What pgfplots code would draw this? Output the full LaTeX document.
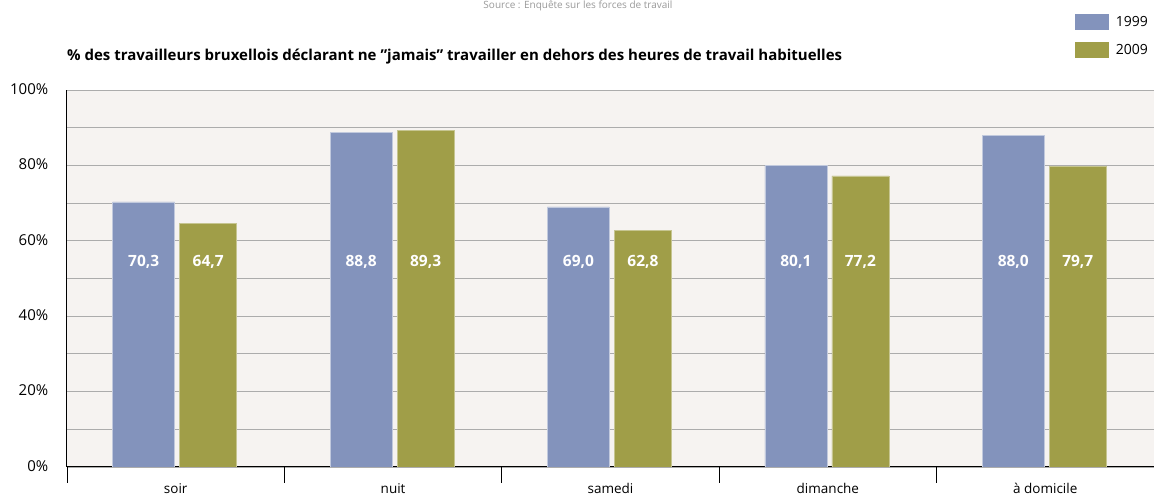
\documentclass[border=0pt]{standalone}
\usepackage{fontspec}
\setmainfont{Open Sans}
\usepackage{pgfplots}
\pgfplotsset{compat=1.18}
\definecolor{cblue}{RGB}{131,147,188}
\definecolor{cgreen}{RGB}{160,158,72}
\definecolor{cbg}{RGB}{246,243,241}
\definecolor{cgrid}{RGB}{172,172,172}
\begin{document}
\begin{tikzpicture}[x=1pt,y=1pt]
\path[use as bounding box] (0,0) rectangle (1154,497);
\node[anchor=north, inner sep=0pt, font=\fontsize{10}{11}\selectfont, text=gray!80] at (578,496) {Source : Enquête sur les forces de travail};
\node[anchor=west, inner sep=0pt, font=\bfseries\fontsize{15}{17}\selectfont] at (67,440) {\% des travailleurs bruxellois déclarant ne {\char34}jamais{\char34} travailler en dehors des heures de travail habituelles};
\begin{axis}[
  at={(67pt,30pt)}, anchor=south west,
  scale only axis, width=1087pt, height=377pt,
  xmin=-0.5, xmax=4.5, ymin=0, ymax=100,
  axis background/.style={fill=cbg},
  axis x line=bottom, axis y line=left,
  axis line style={-, black, line width=1pt},
  /pgf/number format/assume math mode=true,
  ytick={0,20,...,100},
  minor ytick={10,30,...,90},
  ymajorgrids, yminorgrids,
  major grid style={cgrid, line width=0.8pt},
  minor grid style={cgrid, line width=0.8pt},
  yticklabel={\pgfmathprintnumber{\tick}\%},
  major y tick style={draw=none},
  minor y tick style={draw=none},
  yticklabel style={font=\fontsize{15}{15}\selectfont, xshift=-11pt, yshift=1pt},
  xtick={0,...,4},
  xticklabels={soir, nuit, samedi, dimanche, à domicile},
  major x tick style={draw=none},
  minor xtick={-0.5,0.5,...,4.5},
  minor x tick style={black, line width=0.8pt},
  minor tick length=16pt,
  tick align=outside,
  xticklabel style={font=\fontsize{13.5}{13.5}\selectfont, anchor=base, yshift=-22.5pt},
  legend style={at={(1.0037,1.208)}, anchor=north east, draw=none, fill=none,
     font=\fontsize{14}{14}\selectfont, row sep=12pt, nodes={inner xsep=7pt}},
  legend cell align=left,
  legend image code/.code={\path[#1,draw=none] (0pt,-8pt) rectangle (34pt,8pt);},
]
\addplot[ybar, bar width=62pt, bar shift=-32pt, fill=cblue, draw=cblue!50!white, line width=0.6pt]
  coordinates {(0,70.3) (1,88.8) (2,69.0) (3,80.1) (4,88.0)};
\addlegendentry{1999}
\addplot[ybar, bar width=57pt, bar shift=32.5pt, fill=cgreen, draw=cgreen!60!white, line width=0.6pt]
  coordinates {(0,64.7) (1,89.3) (2,62.8) (3,77.2) (4,79.7)};
\addlegendentry{2009}
% value labels (placed at 55% inside the bars)
\addplot[forget plot, draw=none, mark=none, point meta=explicit,
  nodes near coords={\pgfmathprintnumber[fixed,fixed zerofill,precision=1,use comma]{\pgfplotspointmeta}},
  every node near coord/.style={font=\bfseries\fontsize{15.5}{15.5}\selectfont, text=white, anchor=center, xshift=-32pt, yshift=-2pt}]
  table[x=x, y=y, meta=v] {
x y v
0 55 70.3
1 55 88.8
2 55 69.0
3 55 80.1
4 55 88.0
};
\addplot[forget plot, draw=none, mark=none, point meta=explicit,
  nodes near coords={\pgfmathprintnumber[fixed,fixed zerofill,precision=1,use comma]{\pgfplotspointmeta}},
  every node near coord/.style={font=\bfseries\fontsize{15.5}{15.5}\selectfont, text=white, anchor=center, xshift=32.5pt, yshift=-2pt}]
  table[x=x, y=y, meta=v] {
x y v
0 55 64.7
1 55 89.3
2 55 62.8
3 55 77.2
4 55 79.7
};
\end{axis}
\end{tikzpicture}
\end{document}
